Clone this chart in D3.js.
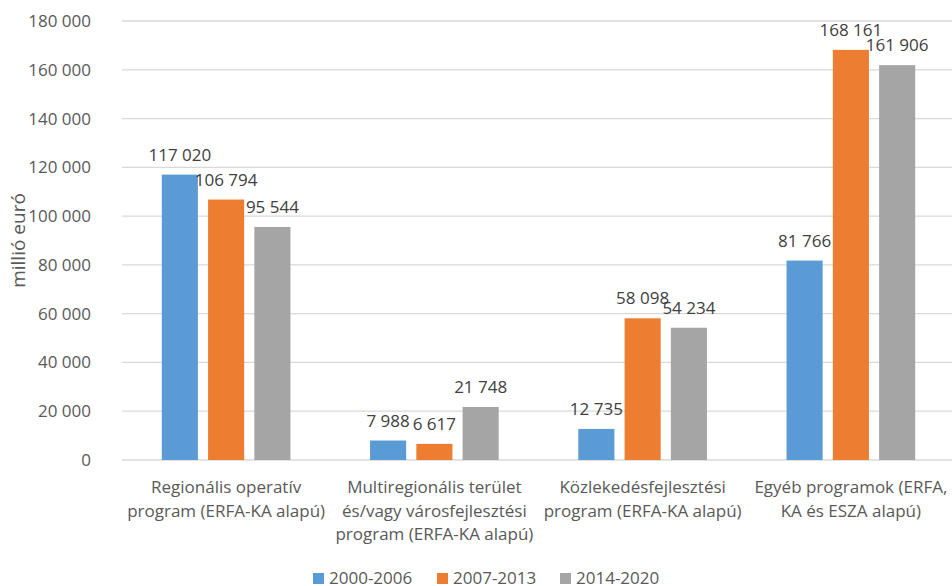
<!DOCTYPE html>
<html lang="hu">
<head>
<meta charset="UTF-8">
<title>ERFA-KA programok</title>
<script src="https://d3js.org/d3.v7.min.js"></script>
<style>
  body { margin: 0; background: #fff; }
  svg text { font-family: "Open Sans", sans-serif; }
</style>
</head>
<body>
<svg id="chart"></svg>
<script>
// Data
var categories = [
  ["Regionális operatív", "program (ERFA-KA alapú)"],
  ["Multiregionális terület", "és/vagy városfejlesztési", "program (ERFA-KA alapú)"],
  ["Közlekedésfejlesztési", "program (ERFA-KA alapú)"],
  ["Egyéb programok (ERFA,", "KA és ESZA alapú)"]
];
var seriesNames = ["2000-2006", "2007-2013", "2014-2020"];
var values2000 = [117020, 7988, 12735, 81766];
var values2007 = [106794, 6617, 58098, 168161];
var values2014 = [95544, 21748, 54234, 161906];
var yTicks = [0, 20000, 40000, 60000, 80000, 100000, 120000, 140000, 160000, 180000];
var colors = ["#5B9BD5", "#ED7D31", "#A5A5A5"];

var allSeries = [values2000, values2007, values2014];
var W = 952, H = 586;
var plotLeft = 122, plotRight = 955, plotTop = 21, plotBottom = 460;

// thousands separated by a space
var fmt = function(v) {
  return String(v).replace(/\B(?=(\d{3})+(?!\d))/g, " ");
};

var svg = d3.select("#chart").attr("width", W).attr("height", H);

var x0 = d3.scaleBand().domain(d3.range(categories.length)).range([plotLeft, plotRight]).padding(0);
var x1 = d3.scaleBand().domain(d3.range(seriesNames.length))
  .range([0, x0.bandwidth()]).paddingInner(0.22).paddingOuter(0.86);
var y = d3.scaleLinear().domain([0, 180000]).range([plotBottom, plotTop]);

// gridlines
svg.append("g").selectAll("line").data(yTicks).enter().append("line")
  .attr("x1", plotLeft).attr("x2", plotRight)
  .attr("y1", function(d) { return y(d); }).attr("y2", function(d) { return y(d); })
  .attr("stroke", "#D9D9D9").attr("stroke-width", 1.3);

// y axis labels
var yAxis = svg.append("g").attr("transform", "translate(91,0)")
  .call(d3.axisLeft(y).tickValues(yTicks).tickSize(0).tickPadding(0).tickFormat(fmt));
yAxis.select(".domain").remove();
yAxis.selectAll("text").attr("font-size", "17px").attr("fill", "#595959")
  .attr("font-family", "Open Sans, sans-serif");

// y axis title
svg.append("text")
  .attr("transform", "translate(25," + ((plotTop + plotBottom) / 2) + ") rotate(-90)")
  .attr("text-anchor", "middle")
  .attr("font-size", "19px").attr("fill", "#595959")
  .text("millió euró");

// bars
allSeries.forEach(function(vals, s) {
  var g = svg.append("g");
  g.selectAll("rect").data(vals).enter().append("rect")
    .attr("x", function(d, i) { return x0(i) + x1(s); })
    .attr("y", function(d) { return y(d); })
    .attr("width", x1.bandwidth())
    .attr("height", function(d) { return plotBottom - y(d); })
    .attr("fill", colors[s]);
  g.selectAll("text").data(vals).enter().append("text")
    .attr("x", function(d, i) { return x0(i) + x1(s) + x1.bandwidth() / 2; })
    .attr("y", function(d) { return y(d) - 14; })
    .attr("text-anchor", "middle")
    .attr("font-size", "17px").attr("fill", "#404040")
    .text(fmt);
});

// category labels
var cat = svg.append("g");
categories.forEach(function(lines, i) {
  var t = cat.append("text")
    .attr("text-anchor", "middle")
    .attr("font-size", "17px").attr("fill", "#595959");
  lines.forEach(function(line, k) {
    t.append("tspan")
      .attr("x", x0(i) + x0.bandwidth() / 2)
      .attr("y", 493 + k * 23.5)
      .text(line);
  });
});

// legend
var legendX = [313, 437, 560];
var legend = svg.append("g");
seriesNames.forEach(function(name, s) {
  legend.append("rect").attr("x", legendX[s]).attr("y", 573)
    .attr("width", 11).attr("height", 11).attr("fill", colors[s]);
  legend.append("text").attr("x", legendX[s] + 16).attr("y", 584)
    .attr("font-size", "17px").attr("fill", "#595959").text(name);
});
</script>
</body>
</html>
